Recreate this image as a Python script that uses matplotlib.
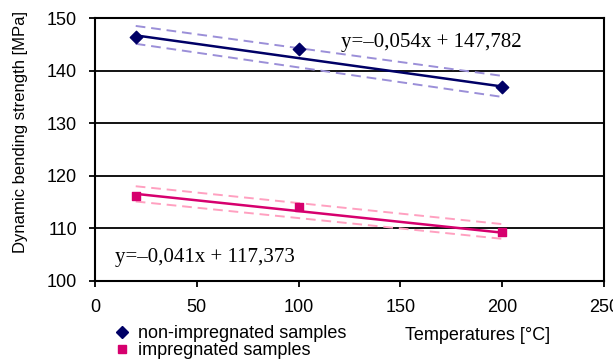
import matplotlib.pyplot as plt
from matplotlib.lines import Line2D

# data
temps = [20, 100, 200]
non_impregnated = [146.3, 144.1, 136.8]
impregnated = [116.2, 114.1, 109.3]

# trend lines as printed on the chart
fit_non = (-0.054, 147.782)
fit_imp = (-0.041, 117.373)

# confidence bands (end values)
band_x = [20, 200]
non_upper = [148.5, 139.0]
non_lower = [145.1, 135.0]
imp_upper = [118.0, 110.8]
imp_lower = [115.1, 108.0]

fig = plt.figure(figsize=(6.13, 3.61), dpi=100)
ax = fig.add_axes([0.155, 0.222, 0.830, 0.728])

sans = 'Liberation Sans'
serif = 'Liberation Serif'

# horizontal grid
for yv in [110, 120, 130, 140]:
    ax.axhline(yv, color='black', lw=1.3, zorder=1)

navy = '#000066'
pink = '#d6006e'

# bands
ax.plot(band_x, non_upper, ls=(0, (5, 3)), color='#9b8fd8', lw=1.4, zorder=2)
ax.plot(band_x, non_lower, ls=(0, (5, 3)), color='#9b8fd8', lw=1.4, zorder=2)
ax.plot(band_x, imp_upper, ls=(0, (5, 3)), color='#ffa0c0', lw=1.4, zorder=2)
ax.plot(band_x, imp_lower, ls=(0, (5, 3)), color='#ffa0c0', lw=1.4, zorder=2)

# fitted lines
xs = [temps[0], temps[-1]]
ax.plot(xs, [fit_non[0] * x + fit_non[1] for x in xs], color=navy, lw=1.8, zorder=3)
ax.plot(xs, [fit_imp[0] * x + fit_imp[1] for x in xs], color=pink, lw=1.8, zorder=3)

# points
ax.scatter(temps, non_impregnated, marker='D', s=40, color=navy, zorder=4)
ax.scatter(temps, impregnated, marker='s', s=40, color=pink, zorder=4)

ax.text(121, 145.4, 'y=\u20130,054x + 147,782', family=serif, fontsize=15, va='center', ha='left')
ax.text(10, 104.4, 'y=\u20130,041x + 117,373', family=serif, fontsize=15, va='center', ha='left')

ax.set_xlim(0, 250)
ax.set_ylim(100, 150)
ax.set_xticks([0, 50, 100, 150, 200, 250])
ax.set_yticks([100, 110, 120, 130, 140, 150])
ax.tick_params(direction='out', length=4, width=1.3, labelsize=13)
ax.tick_params(axis='y', pad=9)
ax.tick_params(axis='x', pad=9)
for lab in ax.get_xticklabels() + ax.get_yticklabels():
    lab.set_family(sans)
for sp in ax.spines.values():
    sp.set_linewidth(1.5)
    sp.set_color('black')

fig.text(0.033, 0.635, 'Dynamic bending strength [MPa]', family=sans, fontsize=12,
         rotation=90, va='center', ha='center')

fig.text(0.66, 0.072, 'Temperatures [\u00b0C]', family=sans, fontsize=13, va='center', ha='left')

handles = [
    Line2D([], [], marker='D', ls='none', color=navy, markersize=6),
    Line2D([], [], marker='s', ls='none', color=pink, markersize=6),
]
fig.legend(handles, ['non-impregnated samples', 'impregnated samples'],
           loc='upper left', bbox_to_anchor=(0.172, 0.12), frameon=False,
           prop={'family': sans, 'size': 13}, handletextpad=0.4,
           labelspacing=0.0, borderaxespad=0, handlelength=1.0)

fig.savefig('out.png', dpi=100)
